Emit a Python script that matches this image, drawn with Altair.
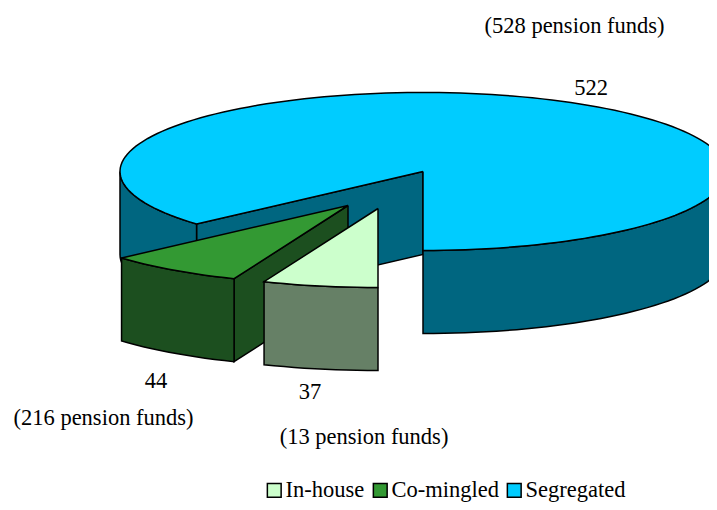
import numpy as np
import pandas as pd
import altair as alt

categories = ["In-house", "Co-mingled", "Segregated"]
values = [37, 44, 522]
top_colors = ["#CCFFCC", "#339933", "#00CCFF"]
side_colors = ["#668066", "#1C4F1F", "#006680"]
fund_notes = ["(13 pension funds)", "(216 pension funds)", "(528 pension funds)"]

CX, CY, RX, RY, DEPTH = 423, 171.5, 303, 79, 83
APEX = {"In-house": (378, 208.5), "Co-mingled": (348, 205.5), "Segregated": (CX, CY)}
FONT = "Liberation Serif"
FS = 22.5

x_scale = alt.Scale(domain=[8, 709], nice=False, zero=False)
y_scale = alt.Scale(domain=[502, 8], nice=False, zero=False)

cum = np.cumsum([0] + values) / sum(values) * 360.0
spans = {c: (cum[i], cum[i + 1]) for i, c in enumerate(categories)}


def arc(apex, t0, t1, dy=0):
    n = max(2, int(abs(t1 - t0) / 2) + 1)
    ts = np.radians(np.linspace(t0, t1, n))
    return [(apex[0] - RX * np.sin(t), apex[1] + RY * np.cos(t) + dy) for t in ts]


def poly(pts, fill):
    pts = list(pts) + [pts[0]]
    df = pd.DataFrame({"px": [p[0] for p in pts], "py": [p[1] for p in pts], "i": range(len(pts))})
    return (
        alt.Chart(df)
        .mark_line(fill=fill, stroke="black", strokeWidth=1.5, clip=True, strokeJoin="miter")
        .encode(
            x=alt.X("px:Q", scale=x_scale, axis=None),
            y=alt.Y("py:Q", scale=y_scale, axis=None),
            order=alt.Order("i:Q"),
        )
    )


def side(apex, t0, t1, fill):
    return poly(arc(apex, t0, t1) + arc(apex, t1, t0, DEPTH), fill)


def wall(apex, t, fill):
    a = arc(apex, t, t)[0]
    return poly([apex, a, (a[0], a[1] + DEPTH), (apex[0], apex[1] + DEPTH)], fill)


def top(apex, t0, t1, fill):
    return poly([apex] + arc(apex, t0, t1), fill)


layers = []
a = APEX["Segregated"]
t0, t1 = spans["Segregated"]
layers += [
    wall(a, t0, side_colors[2]),
    side(a, t0, 90, side_colors[2]),
    side(a, 270, 360, side_colors[2]),
    top(a, t0, t1, top_colors[2]),
]
a = APEX["Co-mingled"]
t0, t1 = spans["Co-mingled"]
layers += [
    wall(a, t0, side_colors[1]),
    side(a, t0, t1, side_colors[1]),
    top(a, t0, t1, top_colors[1]),
]
a = APEX["In-house"]
t0, t1 = spans["In-house"]
layers += [
    side(a, t0, t1, side_colors[0]),
    top(a, t0, t1, top_colors[0]),
]


def label(txt, x, y):
    return (
        alt.Chart(pd.DataFrame({"t": [txt], "px": [x], "py": [y]}))
        .mark_text(font=FONT, fontSize=FS, color="black", align="center", baseline="alphabetic")
        .encode(
            x=alt.X("px:Q", scale=x_scale, axis=None),
            y=alt.Y("py:Q", scale=y_scale, axis=None),
            text="t:N",
        )
    )


layers += [
    label(fund_notes[2], 574.5, 33),
    label(str(values[2]), 591, 95),
    label(str(values[1]), 156, 388),
    label(fund_notes[1], 103.5, 425),
    label(str(values[0]), 310, 399),
    label(fund_notes[0], 364, 444),
]

legend_df = pd.DataFrame({"cat": categories, "px": [349, 330, 423], "py": [230, 260, 130]})
layers.append(
    alt.Chart(legend_df)
    .mark_square(size=1, opacity=0)
    .encode(
        x=alt.X("px:Q", scale=x_scale, axis=None),
        y=alt.Y("py:Q", scale=y_scale, axis=None),
        color=alt.Color(
            "cat:N",
            scale=alt.Scale(domain=categories, range=top_colors),
            sort=categories,
            legend=alt.Legend(
                title=None,
                orient="none",
                legendX=255,
                legendY=471,
                direction="horizontal",
                columns=3,
                symbolType="square",
                symbolSize=190,
                symbolStrokeColor="black",
                symbolStrokeWidth=1.5,
                symbolOpacity=1,
                labelFont=FONT,
                labelFontSize=FS,
                labelColor="black",
                labelOffset=0,
                columnPadding=4,
                padding=0,
                labelLimit=300,
            ),
        ),
    )
)

chart = (
    alt.layer(*layers)
    .properties(width=701, height=494, padding=0, background="white",
                autosize=alt.AutoSizeParams(type="none"))
    .configure_view(stroke=None)
)
chart.save("out.html", embed_options={"renderer": "svg", "actions": False})
